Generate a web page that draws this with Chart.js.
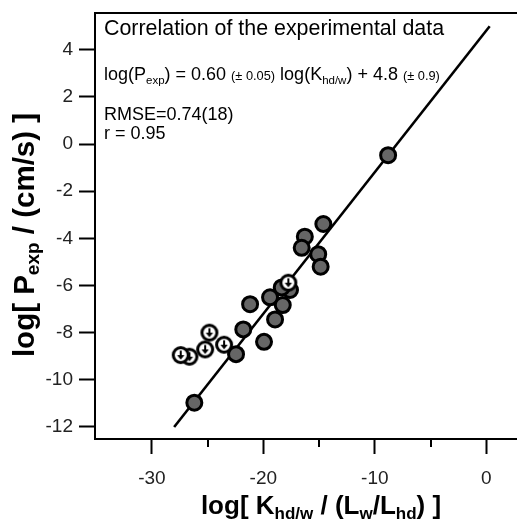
<!DOCTYPE html>
<html>
<head>
<meta charset="utf-8">
<script src="https://cdn.jsdelivr.net/npm/chart.js@4.4.1/dist/chart.umd.min.js"></script>
<style>
  html, body { margin: 0; padding: 0; background: #fff; }
  #chart { display: block; }
</style>
</head>
<body>
<canvas id="chart" width="517" height="523"></canvas>
<script>
// measured points: x = log[K_hd/w / (L_w/L_hd)], y = log[P_exp]
const filledX = [-8.81, -14.62, -16.28, -16.56, -15.08, -14.86, -17.61, -18.35, -19.40, -18.26, -21.19, -18.95, -19.94, -21.80, -22.45, -26.19];
const filledY = [-0.47, -3.39, -3.93, -4.40, -4.67, -5.20, -6.19, -6.08, -6.50, -6.83, -6.79, -7.44, -8.39, -7.86, -8.91, -10.97];

// upper-limit points (open circles with arrow)
const limitX = [-17.76, -23.52, -24.84, -25.22, -26.63, -27.41];
const limitY = [-5.88, -8.51, -8.00, -8.71, -9.02, -8.95];

// fitted line end points
const fitX = [-28.0, 0.3];
const fitY = [-12.0, 5.0];

const xTicks = [-30, -20, -10, 0];
const xMinorTicks = [-25, -15, -5];
const yTicks = [4, 2, 0, -2, -4, -6, -8, -10, -12];

const FONT = "'Liberation Sans', Arial, sans-serif";

function toPoints(xs, ys) {
  return xs.map((x, i) => ({ x: x, y: ys[i] }));
}

// open circle with down arrow
function makeLimitMarker() {
  const c = document.createElement('canvas');
  c.width = 24;
  c.height = 24;
  const g = c.getContext('2d');
  g.beginPath();
  g.arc(12, 12, 7.5, 0, Math.PI * 2);
  g.fillStyle = '#fff';
  g.fill();
  g.lineWidth = 3;
  g.strokeStyle = '#000';
  g.stroke();
  g.beginPath();
  g.moveTo(12, 7.5);
  g.lineTo(12, 13);
  g.lineWidth = 2;
  g.stroke();
  g.beginPath();
  g.moveTo(8.3, 12);
  g.lineTo(15.7, 12);
  g.lineTo(12, 16.4);
  g.closePath();
  g.fillStyle = '#000';
  g.fill();
  return c;
}

// draws text pieces one after another, with sizes and vertical shifts
function drawRich(ctx, x, y, parts, bold) {
  let cx = x;
  parts.forEach(p => {
    ctx.font = (bold ? 'bold ' : '') + p.size + 'px ' + FONT;
    ctx.fillText(p.t, cx, y + (p.dy || 0));
    cx += ctx.measureText(p.t).width;
  });
  return cx - x;
}

function richWidth(ctx, parts, bold) {
  let w = 0;
  parts.forEach(p => {
    ctx.font = (bold ? 'bold ' : '') + p.size + 'px ' + FONT;
    w += ctx.measureText(p.t).width;
  });
  return w;
}

const extras = {
  id: 'extras',
  afterDraw(chart) {
    const ctx = chart.ctx;
    const area = chart.chartArea;
    const xs = chart.scales.x;
    ctx.save();
    ctx.strokeStyle = '#000';
    ctx.lineWidth = 2;

    // top frame line
    ctx.beginPath();
    ctx.moveTo(area.left - 1, area.top);
    ctx.lineTo(area.right, area.top);
    ctx.stroke();

    // minor x ticks
    xMinorTicks.forEach(v => {
      const px = Math.round(xs.getPixelForValue(v));
      ctx.beginPath();
      ctx.moveTo(px, area.bottom);
      ctx.lineTo(px, area.bottom + 8);
      ctx.stroke();
    });

    ctx.fillStyle = '#000';
    ctx.textBaseline = 'alphabetic';
    ctx.textAlign = 'left';

    // annotations
    drawRich(ctx, 104, 35, [{ t: 'Correlation of the experimental data', size: 21.4 }]);
    drawRich(ctx, 104, 80, [
      { t: 'log(P', size: 18 },
      { t: 'exp', size: 11.5, dy: 4 },
      { t: ') = 0.60 ', size: 18 },
      { t: '(\u00b1 0.05)', size: 12.8 },
      { t: ' log(K', size: 18 },
      { t: 'hd/w', size: 11.5, dy: 4 },
      { t: ') + 4.8 ', size: 18 },
      { t: '(\u00b1 0.9)', size: 12.8 }
    ]);
    drawRich(ctx, 104, 120, [{ t: 'RMSE=0.74(18)', size: 18 }]);
    drawRich(ctx, 104, 139, [{ t: 'r = 0.95', size: 18 }]);

    // x axis title
    const xTitle = [
      { t: 'log[ K', size: 26 },
      { t: 'hd/w', size: 17, dy: 5 },
      { t: ' / (L', size: 26 },
      { t: 'w', size: 17, dy: 5 },
      { t: '/L', size: 26 },
      { t: 'hd', size: 17, dy: 5 },
      { t: ') ]', size: 26 }
    ];
    const xw = richWidth(ctx, xTitle, true);
    drawRich(ctx, 321 - xw / 2, 514, xTitle, true);

    // y axis title
    const yTitle = [
      { t: 'log[ P', size: 29.5 },
      { t: 'exp', size: 19, dy: 5 },
      { t: ' / (cm/s) ]', size: 29.5 }
    ];
    const yw = richWidth(ctx, yTitle, true);
    ctx.translate(34, 235);
    ctx.rotate(-Math.PI / 2);
    drawRich(ctx, -yw / 2, 0, yTitle, true);
    ctx.restore();
  }
};

const limitMarker = makeLimitMarker();

new Chart(document.getElementById('chart'), {
  type: 'scatter',
  data: {
    datasets: [
      {
        label: 'upper limits',
        data: toPoints(limitX, limitY),
        pointStyle: limitMarker,
        order: 1
      },
      {
        label: 'data',
        data: toPoints(filledX, filledY),
        pointStyle: 'circle',
        pointRadius: 7.5,
        pointBorderWidth: 3,
        pointBackgroundColor: '#666666',
        pointBorderColor: '#000000',
        order: 2
      },
      {
        label: 'fit',
        type: 'line',
        data: toPoints(fitX, fitY),
        borderColor: '#000000',
        borderWidth: 2.6,
        pointRadius: 0,
        fill: false,
        order: 3
      }
    ]
  },
  options: {
    responsive: false,
    animation: false,
    layout: { autoPadding: false, padding: { top: 13, right: 0, left: 0, bottom: 0 } },
    plugins: {
      legend: { display: false },
      tooltip: { enabled: false }
    },
    scales: {
      x: {
        type: 'linear',
        min: -35.1,
        max: 2.75,
        afterFit: s => { s.height = 84; s.paddingLeft = 0; s.paddingRight = 0; },
        afterBuildTicks: s => { s.ticks = xTicks.map(v => ({ value: v })); },
        border: { display: true, color: '#000', width: 2 },
        grid: { drawOnChartArea: false, drawTicks: true, tickLength: 15, tickWidth: 2, tickColor: '#000' },
        ticks: { color: '#222', font: { family: FONT, size: 19 }, padding: 13 }
      },
      y: {
        type: 'linear',
        min: -12.51,
        max: 5.56,
        afterFit: s => { s.width = 95; s.paddingTop = 0; s.paddingBottom = 0; },
        afterBuildTicks: s => { s.ticks = yTicks.map(v => ({ value: v })); },
        border: { display: true, color: '#000', width: 2 },
        grid: { drawOnChartArea: false, drawTicks: true, tickLength: 16, tickWidth: 2, tickColor: '#000' },
        ticks: { color: '#222', font: { family: FONT, size: 19 }, padding: 6 }
      }
    }
  },
  plugins: [extras]
});
</script>
</body>
</html>
